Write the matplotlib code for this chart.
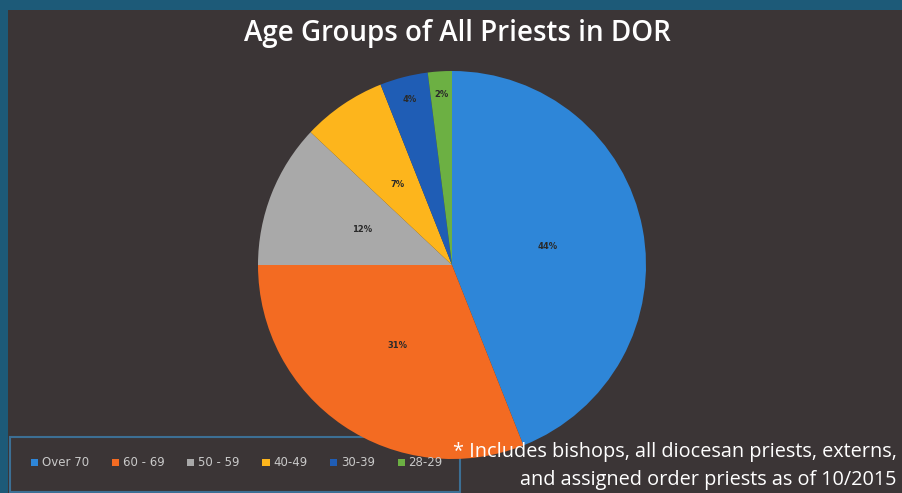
import matplotlib.pyplot as plt
from matplotlib.patches import Rectangle
import numpy as np

# age groups and their share of all priests (percent)
groups = ['Over 70', '60 - 69', '50 - 59', '40-49', '30-39', '28-29']
shares = [44, 31, 12, 7, 4, 2]
colors = ['#2e86d8', '#f36b22', '#a9a9a9', '#fdb51c', '#1f5db5', '#6cb043']

title = 'Age Groups of All Priests in DOR'
note_1 = '* Includes bishops, all diocesan priests, externs,'
note_2 = 'and assigned order priests as of 10/2015'

W, H = 903, 493
bg = '#3b3536'

fig = plt.figure(figsize=(W / 100, H / 100), dpi=100)
fig.patch.set_facecolor('#1d5a78')
ax = fig.add_axes([0, 0, 1, 1])

# slide area (teal frame shows at the top and left edges of the photo)
ax.add_patch(Rectangle((8, 0), W - 8, H - 10, facecolor=bg, edgecolor='none', zorder=0))

# legend box
ax.add_patch(Rectangle((10, 1), 450, 55, facecolor=bg, edgecolor='#3c6f94',
                       linewidth=1.5, zorder=1))

wedges, texts, pcts = ax.pie(shares, colors=colors, startangle=90, counterclock=False,
                             center=(452, 228), radius=194, autopct='%d%%',
                             pctdistance=0.5, frame=True,
                             wedgeprops=dict(linewidth=0, zorder=2),
                             textprops=dict(fontsize=6, fontweight='bold', color='#2a2a2a'))
for w, t in zip(wedges, pcts):
    t.set_zorder(3)
    if w.theta2 - w.theta1 < 20:
        mid = np.deg2rad((w.theta1 + w.theta2) / 2)
        t.set_position((452 + 0.88 * 194 * np.cos(mid), 228 + 0.88 * 194 * np.sin(mid)))
ax.set_xlim(0, W)
ax.set_ylim(0, H)
ax.set_aspect('equal')
ax.axis('off')

ax.text(457, 460, title, color='white', fontsize=20, family='Open Sans',
        fontweight='semibold', ha='center', va='center', zorder=4)

ax.text(897, 41, note_1, color='white', fontsize=14.3, family='Open Sans',
        ha='right', va='center', zorder=4)
ax.text(897, 13, note_2, color='white', fontsize=14.3, family='Open Sans',
        ha='right', va='center', zorder=4)

leg = ax.legend(wedges, groups, loc='center', bbox_to_anchor=(237, 30),
                bbox_transform=ax.transData, ncol=6, frameon=False,
                fontsize=8.5, handlelength=0.6, handleheight=0.6,
                handletextpad=0.3, columnspacing=1.95)
for t in leg.get_texts():
    t.set_color('#c9c9c9')
leg.set_zorder(5)

fig.savefig('out.png', dpi=100, facecolor=fig.get_facecolor())
